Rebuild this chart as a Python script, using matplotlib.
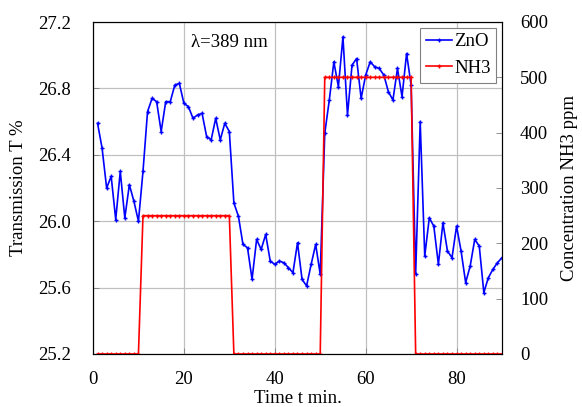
import numpy as np
import matplotlib
matplotlib.use("Agg")
import matplotlib.pyplot as plt

plt.rcParams['font.family'] = ['Liberation Serif', 'DejaVu Serif']

# time axis, minutes
t = np.arange(1, 91)

# transmission of ZnO, %
zno = [26.59, 26.44, 26.20, 26.27, 26.01, 26.30, 26.02, 26.22, 26.12, 26.00,
       26.30, 26.66, 26.74, 26.72, 26.54, 26.72, 26.72, 26.82, 26.83, 26.71,
       26.69, 26.62, 26.64, 26.65, 26.51, 26.49, 26.62, 26.49, 26.59, 26.54,
       26.11, 26.03, 25.86, 25.84, 25.65, 25.89, 25.83, 25.92, 25.76, 25.74,
       25.76, 25.75, 25.72, 25.69, 25.87, 25.65, 25.61, 25.74, 25.86, 25.68,
       26.53, 26.73, 26.96, 26.81, 27.11, 26.64, 26.94, 26.98, 26.74, 26.88,
       26.96, 26.93, 26.92, 26.88, 26.78, 26.73, 26.92, 26.75, 27.01, 26.82,
       25.68, 26.60, 25.79, 26.02, 25.97, 25.74, 25.99, 25.82, 25.78, 25.97,
       25.82, 25.63, 25.73, 25.89, 25.85, 25.57, 25.66, 25.71, 25.75, 25.78]

# NH3 concentration, ppm
nh3 = [0]*10 + [250]*20 + [0]*20 + [500]*20 + [0]*20

fs = 13.5
fig = plt.figure(figsize=(5.82, 4.07), dpi=100)
ax = fig.add_axes([93/582, 1-354/407, (502-93)/582, (354-22)/407])
ax2 = ax.twinx()

l1, = ax.plot(t, zno, color='blue', lw=1.2, marker='+', ms=3.5, mew=1.0, label='ZnO')
l2, = ax2.plot(t, nh3, color='red', lw=1.2, marker='+', ms=3.5, mew=1.0, label='NH3')

ax.set_xlim(0, 90)
ax.set_ylim(25.2, 27.2)
ax2.set_ylim(0, 600)
ax.set_xticks([0, 20, 40, 60, 80])
ax.set_yticks(np.arange(25.2, 27.21, 0.4))
ax.set_yticklabels(['%.1f' % v for v in np.arange(25.2, 27.21, 0.4)])
ax2.set_yticks(np.arange(0, 601, 100))
ax.grid(True, color='#c0c0c0', lw=0.9)
ax.set_axisbelow(True)

for a in (ax, ax2):
    a.tick_params(direction='in', labelsize=fs, length=4, width=0.6, color='#808080')
ax.tick_params(axis='y', pad=16)
ax.tick_params(axis='x', pad=12)
ax2.tick_params(axis='y', pad=13)
for s in ax.spines.values():
    s.set_linewidth(0.8)

ax.set_xlabel('Time t min.', fontsize=fs, labelpad=2)
ax.set_ylabel('Transmission T %', fontsize=fs, labelpad=8)
ax2.set_ylabel('Concentration NH3 ppm', fontsize=fs, labelpad=9)

ax.text(21.5, 27.05, 'λ=389 nm', fontsize=fs)

leg = ax2.legend([l1, l2], ['ZnO', 'NH3'], loc='upper right', fontsize=fs,
                 fancybox=False, edgecolor='#808080', framealpha=1,
                 handlelength=1.4, handletextpad=0.1, borderaxespad=0.3,
                 borderpad=0.3, labelspacing=0.5)
leg.get_frame().set_linewidth(0.8)

fig.savefig('out.png', dpi=100)
